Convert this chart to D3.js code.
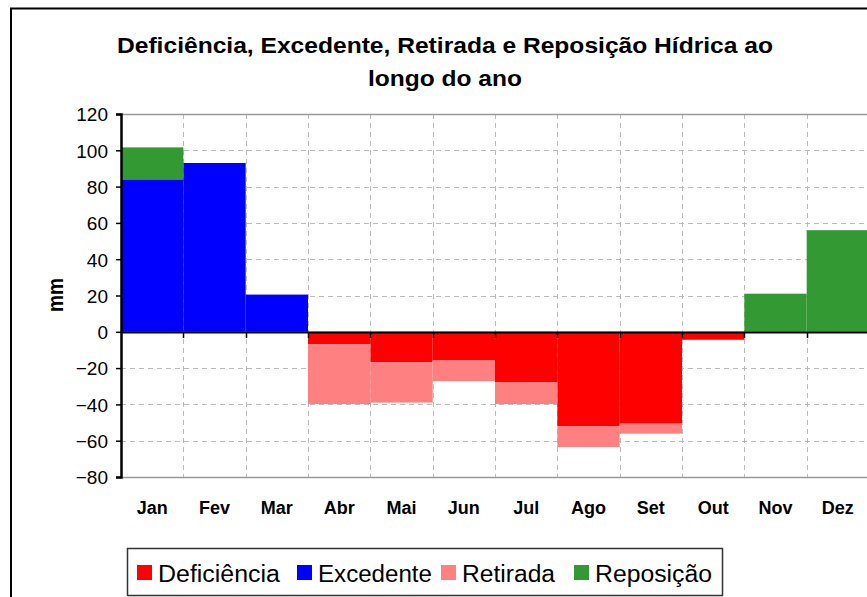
<!DOCTYPE html>
<html><head><meta charset="utf-8">
<script src="https://cdn.jsdelivr.net/npm/d3@7"></script>
<style>body{margin:0;background:#fff;}svg{display:block;font-family:"Liberation Sans",Arial,sans-serif;}</style>
</head><body>
<svg id="c" width="867" height="597"></svg>
<script>
const months = ["Jan","Fev","Mar","Abr","Mai","Jun","Jul","Ago","Set","Out","Nov","Dez"];
const deficiencia = [0, 0, 0, -6.8, -16.7, -15.8, -27.9, -52.1, -50.6, -4.4, 0, 0];
const excedente   = [84, 93, 20.5, 0, 0, 0, 0, 0, 0, 0, 0, 0];
const retirada    = [0, 0, 0, -33, -22.3, -11.4, -11.9, -11.4, -5.5, 0, 0, 0];
const reposicao   = [17.6, 0, 0, 0, 0, 0, 0, 0, 0, 0, 21, 56];
const yTicks = [-80,-60,-40,-20,0,20,40,60,80,100,120];
const seriesNames = ["Deficiência","Excedente","Retirada","Reposição"];
const seriesColors = ["#FF0000","#0000FF","#FF8080","#339933"];

const svg = d3.select("#c");
const X0 = 121, X1 = 869, Y0 = 114, Y1 = 477;
const x = d3.scaleBand().domain(months).range([X0, X1]).padding(0);
const y = d3.scaleLinear().domain([-80,120]).range([Y1, Y0]);

// frame
svg.append("rect").attr("x",11).attr("y",8.5).attr("width",900).attr("height",700)
  .attr("fill","#fff").attr("stroke","#000").attr("stroke-width",2);

// title
svg.append("text").attr("x",445).attr("y",53).attr("text-anchor","middle")
  .attr("font-weight","bold").attr("font-size",22)
  .attr("textLength",656).attr("lengthAdjust","spacingAndGlyphs")
  .text("Deficiência, Excedente, Retirada e Reposição Hídrica ao");
svg.append("text").attr("x",445).attr("y",86).attr("text-anchor","middle")
  .attr("font-weight","bold").attr("font-size",22)
  .attr("textLength",154).attr("lengthAdjust","spacingAndGlyphs")
  .text("longo do ano");

// grid
const g = svg.append("g");
yTicks.filter(t => t !== 0 && t !== 120 && t !== -80).forEach(t => {
  g.append("line").attr("x1",X0).attr("x2",X1).attr("y1",Math.round(y(t))+0.5).attr("y2",Math.round(y(t))+0.5)
    .attr("stroke","#bbb").attr("stroke-dasharray","5,4");
});
months.slice(1).forEach(m => {
  const xx = Math.round(x(m))+0.5;
  g.append("line").attr("x1",xx).attr("x2",xx).attr("y1",Y0).attr("y2",Y1)
    .attr("stroke","#bbb").attr("stroke-dasharray","5,4");
});
g.append("line").attr("x1",X0).attr("x2",X1).attr("y1",Y0+0.5).attr("y2",Y0+0.5).attr("stroke","#999").attr("stroke-width",1.5);
g.append("line").attr("x1",X0).attr("x2",X1).attr("y1",Y1+0.5).attr("y2",Y1+0.5).attr("stroke","#999").attr("stroke-width",1.5);

// stacked bars
const data = months.map((m,i) => ({month:m, "Deficiência":deficiencia[i], "Excedente":excedente[i], "Retirada":retirada[i], "Reposição":reposicao[i]}));
const stack = d3.stack().keys(seriesNames).offset(d3.stackOffsetDiverging);
const layers = stack(data);
layers.forEach((layer, li) => {
  svg.append("g").attr("fill", seriesColors[li]).selectAll("rect").data(layer).join("rect")
    .attr("x", d => x(d.data.month))
    .attr("width", x.bandwidth())
    .attr("y", d => y(Math.max(d[0], d[1])))
    .attr("height", d => Math.abs(y(d[0]) - y(d[1])));
});

// y axis
const yAxis = svg.append("g").attr("transform",`translate(${X0},0)`)
  .call(d3.axisLeft(y).tickValues(yTicks).tickSize(5).tickPadding(8).tickFormat(d3.format("d")));
yAxis.select(".domain").attr("stroke","#000").attr("stroke-width",2.5);
yAxis.selectAll(".tick line").attr("stroke","#000").attr("stroke-width",1.5);
yAxis.selectAll("text").attr("fill","#000").attr("dy","0.36em")
  .style("font-size","19px").style("font-family","'Liberation Sans', Arial, sans-serif");

// zero line with ticks
const zy = Math.round(y(0));
svg.append("line").attr("x1",X0).attr("x2",X1).attr("y1",zy+0.5).attr("y2",zy+0.5).attr("stroke","#000").attr("stroke-width",2);
months.slice(1).forEach(m => {
  const xx = Math.round(x(m))+0.5;
  svg.append("line").attr("x1",xx).attr("x2",xx).attr("y1",zy).attr("y2",zy+6).attr("stroke","#000").attr("stroke-width",1.5);
});

// x labels
svg.append("g").selectAll("text").data(months).join("text")
  .attr("x", d => x(d) + x.bandwidth()/2)
  .attr("y", 514).attr("text-anchor","middle")
  .attr("font-weight","bold").attr("font-size",18).text(d => d);

// y title
svg.append("text").attr("transform","translate(63,295) rotate(-90)")
  .attr("text-anchor","middle").attr("font-weight","bold").attr("font-size",22)
  .attr("textLength",34).attr("lengthAdjust","spacingAndGlyphs").text("mm");

// legend
const lg = svg.append("g");
lg.append("rect").attr("x",127.5).attr("y",548.5).attr("width",595).attr("height",47)
  .attr("fill","#fff").attr("stroke","#333").attr("stroke-width",1.5);
const legX = [137, 297, 441, 574];
const legW = [122, 114, 93, 117];
seriesNames.forEach((n,i) => {
  lg.append("rect").attr("x",legX[i]).attr("y",565).attr("width",15).attr("height",15).attr("fill",seriesColors[i]);
  lg.append("text").attr("x",legX[i]+21).attr("y",582).attr("font-size",23)
    .attr("textLength",legW[i]).attr("lengthAdjust","spacingAndGlyphs").text(n);
});
</script>
</body></html>
